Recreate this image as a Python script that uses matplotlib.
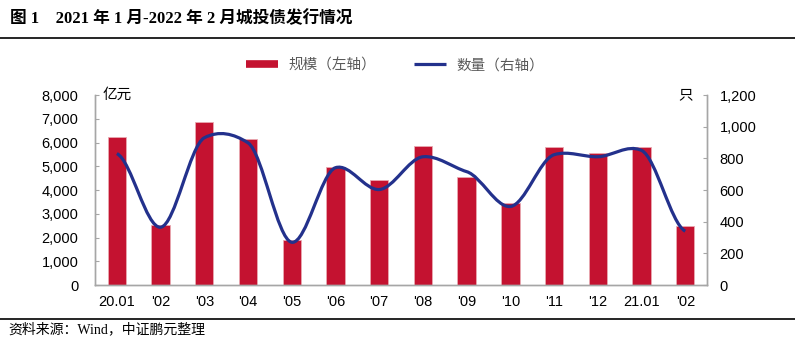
import numpy as np
import matplotlib.pyplot as plt
from matplotlib.path import Path
from matplotlib.patches import PathPatch
from matplotlib.lines import Line2D
from matplotlib.ticker import FuncFormatter

months = ["20.01", "'02", "'03", "'04", "'05", "'06", "'07",
          "'08", "'09", "'10", "'11", "'12", "21.01", "'02"]
# issuance scale (100 million yuan, left axis)
scale = [6230, 2510, 6860, 6150, 1880, 4980, 4440,
         5860, 4560, 3470, 5820, 5560, 5820, 2470]
# number of bonds (right axis)
count = [830, 365, 930, 898, 270, 741, 603,
         810, 716, 496, 823, 810, 850, 340]

plt.rcParams["font.family"] = ["Liberation Sans", "Noto Sans CJK SC"]

red = "#C41230"
navy = "#23318C"
grey = "#A6A6A6"

fig = plt.figure(figsize=(7.95, 3.43), dpi=100)
ax = fig.add_axes([0.1195, 0.1690, 0.7700, 0.5540])
x = np.arange(len(months))

ax.bar(x, scale, 0.42, color=red, edgecolor="#E9A9B1", linewidth=0.6, zorder=2)
ax.set_xlim(-0.5, len(months) - 0.5)
ax.set_ylim(0, 8000)
ax.set_yticks(np.arange(0, 8001, 1000))
ax.yaxis.set_major_formatter(FuncFormatter(lambda v, p: f"{int(v):,}"))
ax.set_xticks(x)
ax.set_xticklabels(months)

ax2 = ax.twinx()
ax2.set_ylim(0, 1200)
ax2.set_yticks(np.arange(0, 1201, 200))
ax2.yaxis.set_major_formatter(FuncFormatter(lambda v, p: f"{int(v):,}"))

# smoothed line drawn as Bezier segments through the data points
k = 0.09
n = len(x)
verts = [(x[0], count[0])]
codes = [Path.MOVETO]
for i in range(n - 1):
    p_prev = np.array([x[max(i - 1, 0)], count[max(i - 1, 0)]], float)
    p0 = np.array([x[i], count[i]], float)
    p1 = np.array([x[i + 1], count[i + 1]], float)
    p_next = np.array([x[min(i + 2, n - 1)], count[min(i + 2, n - 1)]], float)
    c1 = p0 + (p1 - p_prev) * k
    c2 = p1 - (p_next - p0) * k
    c1[0] = p0[0] + 1 / 3
    c2[0] = p1[0] - 1 / 3
    verts += [tuple(c1), tuple(c2), tuple(p1)]
    codes += [Path.CURVE4] * 3
ax2.add_patch(PathPatch(Path(verts, codes), fill=False, edgecolor=navy,
                        lw=2.3, capstyle="butt", zorder=3))

for a in (ax, ax2):
    a.spines["top"].set_visible(False)
    for s in ("left", "right", "bottom"):
        a.spines[s].set_color(grey)
        a.spines[s].set_linewidth(1.0)
    a.tick_params(axis="x", length=0, labelsize=10.5, pad=7)
ax.tick_params(axis="y", direction="in", length=3, color=grey,
               labelsize=10.5, pad=12)
ax2.tick_params(axis="y", direction="in", length=3, color=grey,
                labelsize=10.5, pad=9)

ax.text(0.012, 1.0, "亿元", transform=ax.transAxes, fontsize=10.5,
        va="center", ha="left")
ax2.text(0.977, 1.0, "只", transform=ax2.transAxes, fontsize=10.5,
         va="center", ha="right")

handles = [Line2D([0], [0], color=red, lw=5.5, solid_capstyle="butt"),
           Line2D([0], [0], color=navy, lw=2.3, solid_capstyle="butt")]
fig.legend(handles, ["规模（左轴）", "数量（右轴）"], loc="center",
           bbox_to_anchor=(0.497, 0.810), ncol=2, frameon=False,
           fontsize=10.5, labelcolor="#595959", handlelength=2.2,
           columnspacing=2.6, handletextpad=0.7)

fig.text(0.012, 0.945, "图 1    2021 年 1 月-2022 年 2 月城投债发行情况",
         family=["Liberation Serif", "Noto Sans CJK SC"], fontweight="bold",
         fontsize=12, va="center", ha="left")
fig.add_artist(Line2D([0, 1], [0.889, 0.889], color="black", lw=1.2))
fig.add_artist(Line2D([0, 1], [0.070, 0.070], color="black", lw=1.2))
fig.text(0.010, 0.040, "资料来源：Wind，中证鹏元整理",
         family=["Liberation Serif", "Noto Sans CJK SC"],
         fontsize=10, va="center", ha="left")

fig.savefig("out.png", dpi=100)
